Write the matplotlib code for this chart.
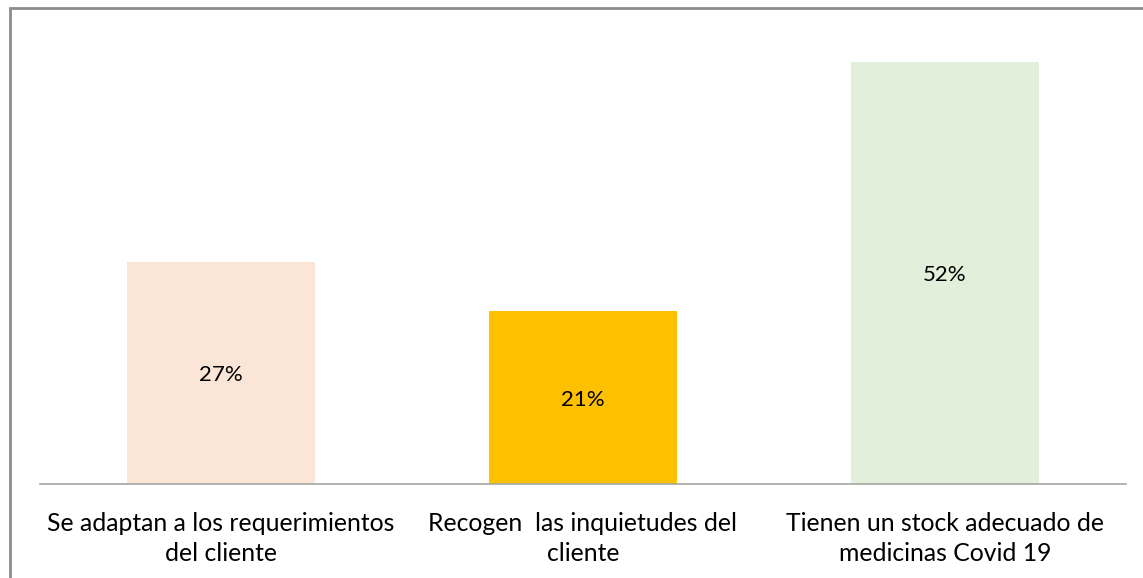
import matplotlib
matplotlib.use("Agg")
import matplotlib.pyplot as plt
from matplotlib.patches import Rectangle

categories = [
    "Se adaptan a los requerimientos\ndel cliente",
    "Recogen  las inquietudes del\ncliente",
    "Tienen un stock adecuado de\nmedicinas Covid 19",
]
values = [27.4, 21.3, 52.0]
labels = ["27%", "21%", "52%"]
colors = ["#FBE5D6", "#FFC000", "#E2EFDA"]

plt.rcParams["font.family"] = ["Lato", "DejaVu Sans"]

W, H = 1143, 578
fig = plt.figure(figsize=(W / 100, H / 100), dpi=100)

# outer chart border (gray), runs off the right and bottom edges
fig.patches.append(Rectangle((10 / W, -0.1), 1.2, 1 - 8 / H + 0.1,
                             transform=fig.transFigure, fill=False,
                             edgecolor="#8c8c8c", linewidth=2))

ax = fig.add_axes([40 / W, 1 - 484 / H, 1086 / W, 464 / H])
x = range(len(categories))
bars = ax.bar(x, values, width=0.52, color=colors)
for b, lab in zip(bars, labels):
    ax.text(b.get_x() + b.get_width() / 2, b.get_height() / 2, lab,
            ha="center", va="center_baseline", fontsize=16, color="#000000")

ax.set_xlim(-0.5, 2.5)
ax.set_ylim(0, 57.2)
ax.set_xticks(list(x))
ax.set_xticklabels(categories, fontsize=17.8, linespacing=1.36)
ax.tick_params(axis="x", length=0, pad=20)
ax.set_yticks([])
for s in ["top", "right", "left"]:
    ax.spines[s].set_visible(False)
ax.spines["bottom"].set_color("#a6a6a6")
ax.spines["bottom"].set_linewidth(1.2)

fig.savefig("out.png", dpi=100)
